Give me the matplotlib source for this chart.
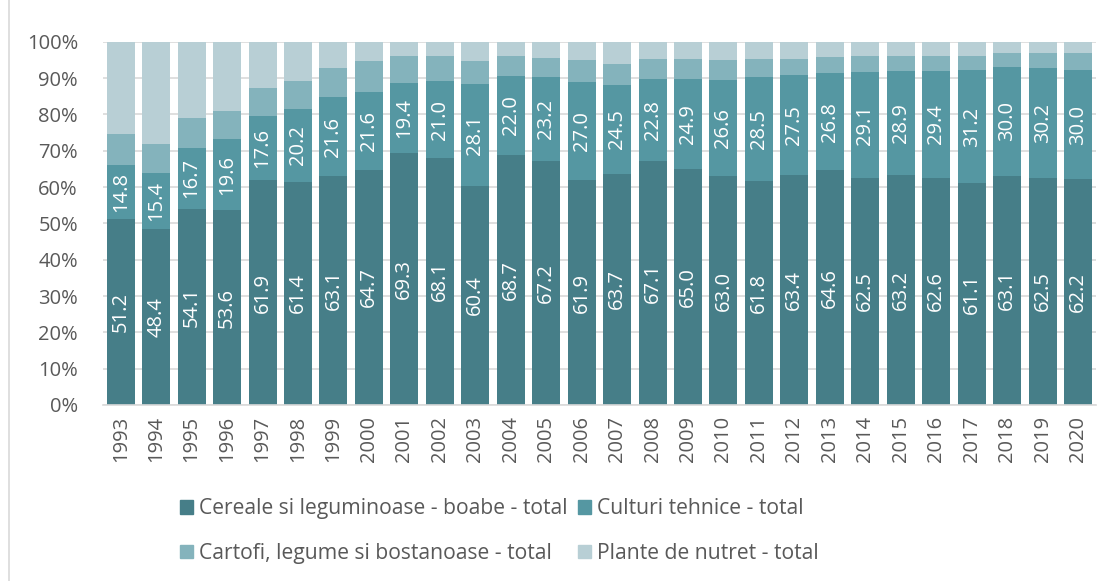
import numpy as np
import matplotlib.pyplot as plt
from matplotlib.patches import Patch

plt.rcParams['font.family'] = ['Open Sans', 'DejaVu Sans']

years = [str(y) for y in range(1993, 2021)]

cereale = [51.2, 48.4, 54.1, 53.6, 61.9, 61.4, 63.1, 64.7, 69.3, 68.1,
           60.4, 68.7, 67.2, 61.9, 63.7, 67.1, 65.0, 63.0, 61.8, 63.4,
           64.6, 62.5, 63.2, 62.6, 61.1, 63.1, 62.5, 62.2]
culturi = [14.8, 15.4, 16.7, 19.6, 17.6, 20.2, 21.6, 21.6, 19.4, 21.0,
           28.1, 22.0, 23.2, 27.0, 24.5, 22.8, 24.9, 26.6, 28.5, 27.5,
           26.8, 29.1, 28.9, 29.4, 31.2, 30.0, 30.2, 30.0]
cartofi = [8.7, 8.2, 8.1, 7.7, 7.9, 7.5, 8.1, 8.3, 7.3, 6.9,
           6.1, 5.3, 5.1, 6.0, 5.6, 5.3, 5.3, 5.3, 4.9, 4.3,
           4.3, 4.4, 3.9, 4.0, 3.7, 3.7, 4.3, 4.8]
plante = [25.3, 28.0, 21.1, 19.1, 12.6, 10.9, 7.2, 5.4, 4.0, 4.0,
          5.4, 4.0, 4.5, 5.1, 6.2, 4.8, 4.8, 5.1, 4.8, 4.8,
          4.3, 4.0, 4.0, 4.0, 4.0, 3.2, 3.0, 3.0]

names = ['Cereale si leguminoase - boabe - total', 'Culturi tehnice - total',
         'Cartofi, legume si bostanoase - total', 'Plante de nutret - total']
colors = ['#467e88', '#5597a2', '#84b3bc', '#b8cfd5']

fig = plt.figure(figsize=(11.13, 5.81), dpi=100)
ax = fig.add_axes([0.0925, 0.303, 0.892, 0.625])

x = np.arange(len(years))
series = [cereale, culturi, cartofi, plante]
bottom = np.zeros(len(years))
for vals, c in zip(series, colors):
    ax.bar(x, vals, 0.79, bottom=bottom, color=c, zorder=2)
    bottom += np.array(vals)

# labels on the first two series
bottom = np.zeros(len(years))
for vals in series[:2]:
    for i, v in enumerate(vals):
        ax.text(x[i], bottom[i] + v / 2, f'{v:.1f}', rotation=90, ha='center',
                va='center', color='white', fontsize=14.5, zorder=3)
    bottom += np.array(vals)

ax.set_xlim(-0.5, len(years) - 0.5)
ax.set_ylim(0, 100)
ax.set_yticks(np.arange(0, 101, 10))
ax.set_yticklabels([f'{t}%' for t in range(0, 101, 10)])
ax.set_xticks(x)
ax.set_xticklabels(years, rotation=90)
ax.tick_params(axis='both', length=0, colors='#595959', labelsize=14.5)
ax.tick_params(axis='y', pad=18)
ax.tick_params(axis='x', pad=8)
ax.grid(axis='y', color='#d9d9d9', linewidth=1.2, zorder=0)
for s in ['top', 'right', 'left']:
    ax.spines[s].set_visible(False)
ax.spines['bottom'].set_color('#d9d9d9')
ax.spines['bottom'].set_linewidth(1.2)

handles = [Patch(color=c) for c in colors]
order = [0, 2, 1, 3]
fig.legend([handles[i] for i in order], [names[i] for i in order], ncol=2,
           loc='center', bbox_to_anchor=(0.449, 0.086), frameon=False,
           fontsize=15.2, handlelength=0.6, handleheight=0.6, handletextpad=0.3,
           columnspacing=0.5, labelspacing=1.1, labelcolor='#595959')

fig.add_artist(plt.Line2D([0.008, 0.008], [0, 1], color='#d9d9d9', linewidth=1.2))

fig.savefig('out.png', dpi=100)
